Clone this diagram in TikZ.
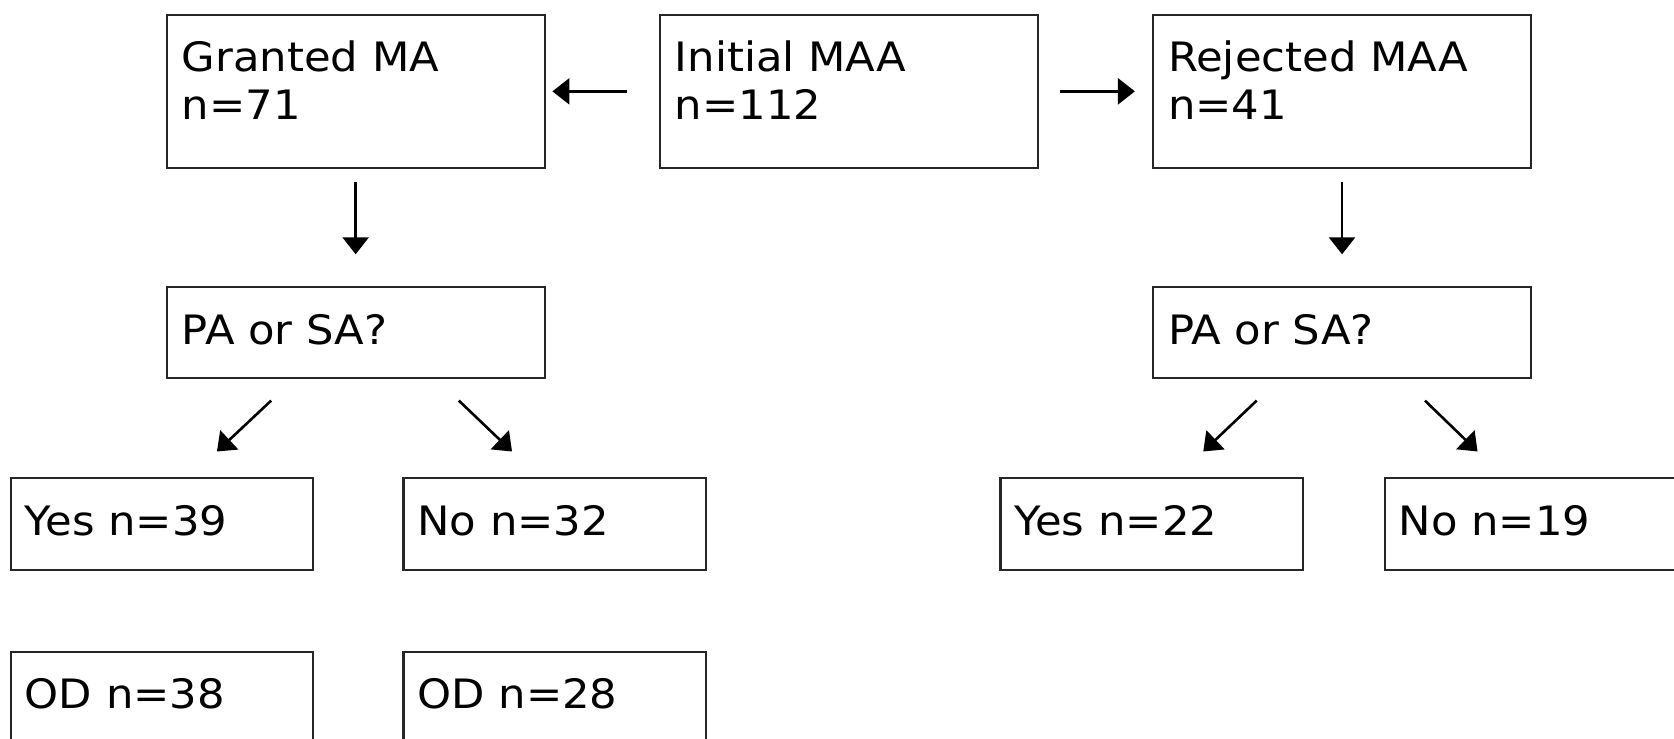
\documentclass[tikz,border=0pt]{standalone}
\usepackage{fontspec}
\newfontfamily\labfont[FakeStretch=1.07]{DejaVu Sans}
\usetikzlibrary{arrows.meta,calc}
\begin{document}
\begin{tikzpicture}[x=1pt,y=1pt,
  box/.style={draw=black!85,line width=2.3pt,rectangle,inner sep=0pt,anchor=north west},
  bigbox/.style={box,minimum width=378pt,minimum height=152.6pt},
  midbox/.style={box,minimum width=378pt,minimum height=90.8pt},
  smallbox/.style={box,minimum width=302.4pt,minimum height=92pt},
  lbl/.style={inner sep=0pt,anchor=base west,align=left,font=\labfont\fontsize{40.5}{48}\selectfont},
  arr/.style={line width=2.6pt,-{Triangle[length=17pt,width=26pt]}}]
\useasboundingbox (0,0) rectangle (1674,-739);
% boxes
\node[bigbox] (granted) at (165.5,-13.9) {};
\node[bigbox] (initial) at (658.7,-13.9) {};
\node[bigbox] (rejected) at (1151.9,-13.9) {};
\node[midbox] (pa1) at (165.5,-286.1) {};
\node[midbox] (pa2) at (1151.9,-286.1) {};
\node[smallbox] (yes1) at (9.6,-477) {};
\node[smallbox] (no1) at (402.2,-477) {};
\node[smallbox] (yes2) at (999.3,-477) {};
\node[smallbox] (no2) at (1383.5,-477) {};
\node[smallbox] (od1) at (9.6,-650.5) {};
\node[smallbox] (od2) at (402.2,-650.5) {};
% texts (base anchor = baseline of last line)
\node[lbl] (granted-t) at ($(granted.north west)+(16,-106)$) {Granted MA\\n=71};
\node[lbl] (initial-t) at ($(initial.north west)+(16,-106)$) {Initial MAA\\n=112};
\node[lbl] (rejected-t) at ($(rejected.north west)+(16,-106)$) {Rejected MAA\\n=41};
\node[lbl] (pa1-t) at ($(pa1.north west)+(16,-58)$) {PA or SA?};
\node[lbl] (pa2-t) at ($(pa2.north west)+(16,-58)$) {PA or SA?};
\node[lbl] (yes1-t) at ($(yes1.north west)+(15,-58)$) {Yes n=39};
\node[lbl] (no1-t) at ($(no1.north west)+(15,-58)$) {No n=32};
\node[lbl] (yes2-t) at ($(yes2.north west)+(15,-58)$) {Yes n=22};
\node[lbl] (no2-t) at ($(no2.north west)+(15,-58)$) {No n=19};
\node[lbl] (od1-t) at ($(od1.north west)+(15,-58)$) {OD n=38};
\node[lbl] (od2-t) at ($(od2.north west)+(15,-58)$) {OD n=28};
% connectors
\draw[arr] ([xshift=-32pt]initial.west) -- ([xshift=6.6pt]granted.east);
\draw[arr] ([xshift=21.4pt]initial.east) -- ([xshift=-17pt]rejected.west);
\draw[arr] ([yshift=-12.8pt]granted.south) -- ([yshift=31.8pt]pa1.north);
\draw[arr] ([yshift=-12.8pt]rejected.south) -- ([yshift=31.8pt]pa2.north);
\draw[arr] ([xshift=-84.5pt,yshift=-21.4pt]pa1.south) -- ([xshift=55pt,yshift=25.5pt]yes1.north);
\draw[arr] ([xshift=103.2pt,yshift=-21.4pt]pa1.south) -- ([xshift=-42.5pt,yshift=25.5pt]no1.north);
\draw[arr] ([xshift=-85.4pt,yshift=-21.4pt]pa2.south) -- ([xshift=51.6pt,yshift=25.5pt]yes2.north);
\draw[arr] ([xshift=82.9pt,yshift=-21.4pt]pa2.south) -- ([xshift=-58.3pt,yshift=25.5pt]no2.north);
\end{tikzpicture}
\end{document}
